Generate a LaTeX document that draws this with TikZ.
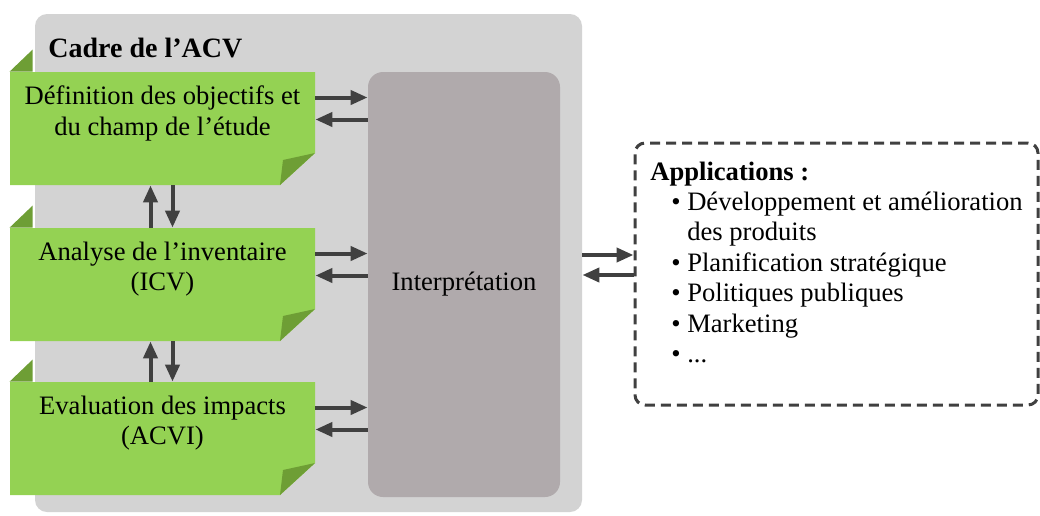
\documentclass[tikz,border=0pt]{standalone}
\usepackage{fontspec}
\setmainfont{Liberation Serif}
\usetikzlibrary{arrows.meta}
\def\bodyfont{\fontsize{13.3pt}{15.2pt}\selectfont}
\def\titlefont{\fontsize{14pt}{16pt}\selectfont\bfseries}
\definecolor{frame gray}{HTML}{D3D3D3}
\definecolor{interp gray}{HTML}{B0AAAC}
\definecolor{arrow gray}{HTML}{404040}
\definecolor{phase area}{HTML}{94D253}
\definecolor{phase fold}{HTML}{6E9E35}
\tikzset{cadre/.style={fill=frame gray, rounded corners=6pt, inner sep=0pt,
		minimum width=273.5pt, minimum height=249pt},
	phase/.style={font=\bodyfont, align=center, inner sep=0pt, text depth=18pt,
		minimum width=152.5pt, minimum height=56.5pt,
		path picture={
			\fill[phase area] (path picture bounding box.north west)
				-- (path picture bounding box.north east)
				-- ([yshift=16pt]path picture bounding box.south east)
				-- ([xshift=-17.5pt]path picture bounding box.south east)
				-- (path picture bounding box.south west) -- cycle;
			\fill[phase fold] ([yshift=16pt]path picture bounding box.south east)
				-- ([xshift=-17.5pt]path picture bounding box.south east)
				-- ([xshift=-16pt,yshift=12.5pt]path picture bounding box.south east) -- cycle;
		}},
	interp/.style={font=\bodyfont, fill=interp gray, rounded corners=7.5pt, inner sep=0pt,
		minimum width=96pt, minimum height=212.5pt},
	apps/.style={font=\bodyfont, align=left, draw=arrow gray, line width=1.5pt,
		dash pattern=on 5pt off 3pt, rounded corners=5pt, inner xsep=7.5pt, text depth=12pt,
		minimum width=201.5pt, minimum height=131pt},
	arrow/.style={draw=arrow gray, line width=2pt, -{Triangle[length=8.5pt,width=7pt]}}}

\begin{document}
\begin{tikzpicture}[x=0.5pt,y=-0.5pt]
		\useasboundingbox (0,0) rectangle (1040,515);
		\node[cadre] (cadre) at (308.5,263) {};
		\node[anchor=base west, inner sep=0pt, font=\titlefont] (title) at (48,57) {Cadre de l’ACV};
		\node[phase] (goal) at (162.5,128.5) {Définition des objectifs et\\du champ de l’étude};
		\node[phase] (inv) at (162.5,284.5) {Analyse de l’inventaire\\(ICV)};
		\node[phase] (imp) at (162.5,438.5) {Evaluation des impacts\\(ACVI)};
		\foreach \n in {goal,inv,imp}
			\fill[phase fold] (\n.north west) -- ++(23,-22) -- ++(0,22) -- cycle;
		\node[interp] (interp) at (464,284.5) {Interprétation};
		\node[apps] (apps) at (836.5,274) {\textbf{Applications :}\\
			\hspace*{10.5pt}\textbullet\ Développement et amélioration\\
			\hspace*{10.5pt}\phantom{\textbullet\ }des produits\\
			\hspace*{10.5pt}\textbullet\ Planification stratégique\\
			\hspace*{10.5pt}\textbullet\ Politiques publiques\\
			\hspace*{10.5pt}\textbullet\ Marketing\\
			\hspace*{10.5pt}\textbullet\ ...};
		\foreach \n in {goal,inv,imp} {
			\draw[arrow] ([yshift=15.5pt]\n.east) -- ([yshift=15.5pt]\n.east -| interp.west);
			\draw[arrow] ([yshift=4.5pt]\n.east -| interp.west) -- ([yshift=4.5pt]\n.east);
		}
		\foreach \a/\b in {goal/inv,inv/imp} {
			\draw[arrow] ([xshift=-6pt]\b.north) -- ([xshift=-6pt]\a.south);
			\draw[arrow] ([xshift=5pt]\a.south) -- ([xshift=5pt]\b.north);
		}
		\draw[arrow] ([yshift=4pt]cadre.east) -- ([yshift=4pt]cadre.east -| apps.west);
		\draw[arrow] ([yshift=-6pt]cadre.east -| apps.west) -- ([yshift=-6pt]cadre.east);
		\end{tikzpicture}
\end{document}
